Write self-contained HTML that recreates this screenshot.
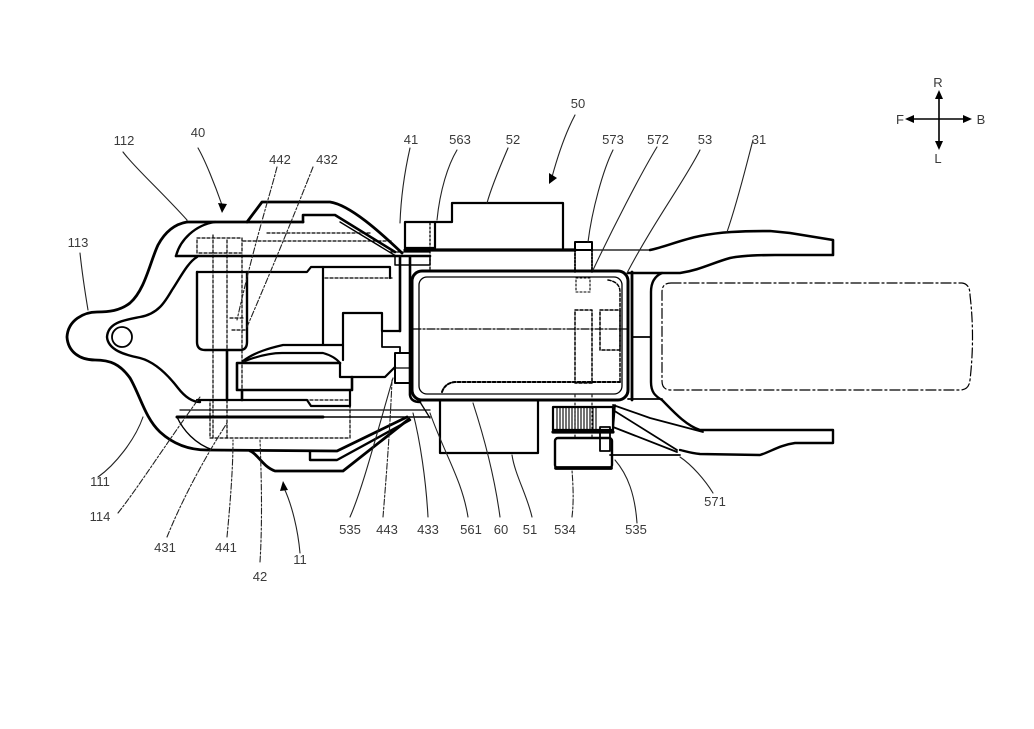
<!DOCTYPE html>
<html><head><meta charset="utf-8"><style>
html,body{margin:0;padding:0;background:#fff;}
svg{display:block;}
text{font-family:"Liberation Sans",sans-serif;font-size:13px;fill:#3a3a3a;text-anchor:middle;}
</style></head><body>
<svg width="1034" height="729" viewBox="0 0 1034 729" xmlns="http://www.w3.org/2000/svg">
<g fill="none" stroke="#000" stroke-linejoin="round" stroke-linecap="round">
<!-- outer housing -->
<path stroke-width="2.8" d="M187,222 C175,224 165,232 158,245 C150,262 145,290 130,303 C120,311 108,312 97,312 C84,312 68,320 67,337 C68,352 80,360 95,360 C110,360 120,364 130,378 C140,395 145,418 160,432 C172,443 188,450 207,450 L337,451 L407,417"/>
<path stroke-width="2.8" d="M250,451 C258,454 262,466 275,471 L343,471 L409,419"/>
<path stroke-width="2.4" d="M310,451 L310,460 L337,460 L410,420"/>
<path stroke-width="2.8" d="M187,222 L303,222"/>
<path stroke-width="2.8" d="M247,222 L262,202 L330,202 C350,205 380,232 402,253"/>
<path stroke-width="2.6" d="M303,222 L303,215 L335,215 L395,252"/>
<path stroke-width="1.4" d="M340,222 L396,256"/>
<!-- inner contour -->
<path stroke-width="2.4" d="M197,257 C188,262 180,278 172,290 C165,302 158,314 140,317 C125,320 108,322 107,337 C108,350 125,355 140,358 C155,362 168,375 178,388 C185,397 192,402 200,402"/>
<path stroke-width="2.4" d="M176,256 C180,240 195,225 215,222"/>
<path stroke-width="2.6" d="M176,256 L430,256"/>
<path stroke-width="1.2" d="M390,252 L430,252"/>
<path stroke-width="2.2" d="M197,272 L307,272 L311,267 L390,267 L390,278"/>
<path stroke-width="1.3" stroke-dasharray="3,2" d="M325,278 L392,278"/>
<path stroke-width="2.4" d="M197,272 L197,342 Q197,350 205,350 L240,350 Q247,350 247,342 L247,272"/>
<circle cx="122" cy="337" r="10" stroke-width="1.8"/>
<path stroke-width="1.4" d="M177,417 C183,430 195,444 213,450"/>
<!-- motor area -->
<path stroke-width="2.2" d="M323,267 L323,345 L343,345 M323,345 L283,345 C270,348 255,352 243,361"/>
<path stroke-width="2.2" d="M245,361 C258,356 270,353 282,353 L323,353 C330,355 336,358 340,363"/>
<path stroke-width="2.2" d="M343,360 L343,313 L382,313 L382,331 L400,331"/>
<path stroke-width="1.8" d="M382,331 L382,347 L400,347 L400,353"/>
<path stroke-width="2.2" d="M340,363 L340,377 L385,377 L395,367"/>
<path stroke-width="2.6" d="M340,363 L237,363 L237,390 L352,390 L352,377"/>
<path stroke-width="2.2" d="M197,400 L307,400 L311,406 L350,406 L350,390"/>
<path stroke-width="2.6" d="M227,350 L227,400 M242,390 L242,400"/>
<path stroke-width="1.3" d="M180,410 L430,410"/>
<path stroke-width="3" d="M177,417 L323,417"/>
<path stroke-width="1.4" d="M323,417 L430,417"/>
<path stroke-width="2.6" d="M400,257 L400,331 M410,257 L410,395 Q411,402 420,402"/>
<rect x="395" y="353" width="15" height="30" stroke-width="2"/>
<path stroke-width="1.3" d="M395,368 L410,368 M420,402 L430,418"/>
<!-- hidden lines left -->
<g stroke-width="1.2" stroke-dasharray="3,2">
<path d="M213,235 L213,438 M227,240 L227,350 M242,255 L242,390 M227,400 L227,440"/>
<rect x="210" y="400" width="140" height="38"/>
<rect x="197" y="238" width="45" height="15"/>
<path d="M267,233 L370,233 M243,241 L392,241"/>
<path d="M230,318 L245,318 M232,330 L245,330"/>
</g>
<!-- top boxes -->
<rect x="405" y="222" width="30" height="26" stroke-width="2.2"/>
<path stroke-width="2.2" d="M435,222 L452,222 L452,203 L563,203 L563,248"/>
<path stroke-width="1.3" stroke-dasharray="2,2" d="M430,223 L430,270"/>
<rect x="395" y="256" width="35" height="9" stroke-width="1.5"/>
<path stroke-width="3.2" d="M405,250 L575,250"/>
<rect x="575" y="242" width="17" height="8" stroke-width="2"/>
<path stroke-width="1.8" stroke-dasharray="2,1.5" d="M575,250 L575,272 M592,250 L592,272"/>
<rect x="576" y="278" width="14" height="14" stroke-width="1.1" stroke-dasharray="2,2"/>
<!-- tank -->
<rect x="412" y="271" width="216" height="129" rx="10" stroke-width="3"/>
<rect x="419" y="277" width="203" height="117" rx="8" stroke-width="1.3"/>
<path stroke-width="1.2" stroke-dasharray="8,2,2,2" d="M413,329 L628,329"/>
<path stroke-width="2" stroke-dasharray="3,2" d="M442,392 Q445,383 455,382 L620,382"/>
<g stroke-width="1.5" stroke-dasharray="3,2">
<rect x="575" y="310" width="17" height="73"/>
<rect x="600" y="310" width="20" height="40"/>
<path d="M608,280 Q620,282 620,292 L620,383"/>
</g>
<rect x="440" y="400" width="98" height="53" stroke-width="2.2"/>
<!-- gears -->
<rect x="553" y="407" width="60" height="23" stroke-width="2.2"/>
<path stroke-width="1.1" d="M557,408V429M560,408V429M563,408V429M566,408V429M569,408V429M572,408V429M575,408V429M578,408V429M581,408V429M584,408V429M587,408V429M590,408V429M593,408V429M596,408V429"/>
<path stroke-width="3.2" d="M553,432 L613,432"/>
<rect x="555" y="438" width="57" height="30" rx="3" stroke-width="2.4"/>
<path stroke-width="3.8" d="M556,468 L611,468"/>
<rect x="600" y="427" width="10" height="24" stroke-width="1.8"/>
<path stroke-width="1.1" stroke-dasharray="2,2" d="M575,395 L575,438 M592,395 L592,438"/>
<path stroke-width="1.8" d="M613,405 L650,418 L703,432 M613,410 L677,450 M613,427 L677,452 M610,455 L680,455 M613,430 L615,405"/>
<!-- right structure / 31 -->
<path stroke-width="2.8" d="M632,272 L632,400"/>
<path stroke-width="1.8" d="M632,337 L650,337"/>
<path stroke-width="1.3" d="M592,250 L650,250"/>
<path stroke-width="2.6" d="M650,250 C665,247 680,240 700,236 C720,232 740,231 770,231 L790,233 L833,240 L833,255 L775,255 C755,255 740,256 730,258 C712,263 700,270 680,273 L628,273"/>
<path stroke-width="2.4" d="M662,273 C655,276 651,282 651,292 L651,382 C651,392 655,396 662,400 C672,410 685,425 700,430 L833,430 L833,443 L795,443 C780,445 770,452 760,455 L700,454 C690,453 685,451 680,450"/>
<path stroke-width="1.8" d="M628,399 L662,399"/>
<path stroke-width="1.2" stroke-dasharray="10,3,2,3" d="M671,283 L962,283 Q970,284 970,295 Q975,337 970,380 Q969,390 960,390 L671,390 Q662,390 662,381 L662,292 Q662,283 671,283 Z"/>
<!-- leader lines -->
<g stroke-width="1.1" stroke="#222">
<path d="M123,152 C135,168 160,190 187,220"/>
<path d="M198,148 C205,160 215,185 222,205"/>
<path d="M80,253 C82,272 85,292 88,310"/>
<path d="M410,148 C405,170 401,195 400,223"/>
<path d="M457,150 C448,165 440,190 437,220"/>
<path d="M508,148 C502,162 492,185 487,203"/>
<path d="M575,115 C566,132 558,155 552,177"/>
<path d="M613,150 C603,170 592,210 588,242"/>
<path d="M657,147 C640,175 612,230 593,270"/>
<path d="M700,150 C685,180 655,220 627,273"/>
<path d="M753,140 C745,170 738,200 727,232"/>
<path d="M98,477 C115,465 135,440 143,417"/>
<path d="M300,553 C298,530 292,505 284,488"/>
<path d="M350,517 C362,490 375,440 393,378"/>
<path d="M428,517 C426,480 420,440 413,413"/>
<path d="M468,517 C462,480 445,455 430,413"/>
<path d="M500,517 C495,480 485,440 473,403"/>
<path d="M532,517 C527,495 515,475 512,455"/>
<path d="M637,523 C635,495 628,475 615,460"/>
<path d="M713,493 C705,480 692,465 680,457"/>
</g>
<g stroke-width="1.1" stroke="#222" stroke-dasharray="6,2,2,2">
<path d="M277,167 C270,195 255,240 237,320"/>
<path d="M313,167 C300,200 280,250 247,327"/>
<path d="M118,513 C140,485 165,445 200,397"/>
<path d="M167,537 C180,505 200,465 227,423"/>
<path d="M227,537 C230,505 233,470 233,440"/>
<path d="M260,562 C262,530 262,490 260,440"/>
<path d="M383,517 C386,480 390,430 392,380"/>
<path d="M572,517 C574,500 573,485 572,470"/>
</g>
<!-- direction -->
<path stroke-width="1.6" d="M939,120 L939,96 M939,120 L939,145 M939,119 L911,119 M939,119 L966,119"/>
</g>
<g fill="#000" stroke="none">
<path d="M222,213 L218,203 L227,204 Z"/>
<path d="M549,184 L549,173 L557,178 Z"/>
<path d="M283,481 L280,491 L288,490 Z"/>
<path d="M939,90 L935,99 L943,99 Z"/>
<path d="M939,150 L935,141 L943,141 Z"/>
<path d="M905,119 L914,115 L914,123 Z"/>
<path d="M972,119 L963,115 L963,123 Z"/>
</g>
<text x="124" y="145">112</text>
<text x="198" y="137">40</text>
<text x="280" y="164">442</text>
<text x="327" y="164">432</text>
<text x="78" y="247">113</text>
<text x="411" y="144">41</text>
<text x="460" y="144">563</text>
<text x="513" y="144">52</text>
<text x="578" y="108">50</text>
<text x="613" y="144">573</text>
<text x="658" y="144">572</text>
<text x="705" y="144">53</text>
<text x="759" y="144">31</text>
<text x="100" y="486">111</text>
<text x="100" y="521">114</text>
<text x="165" y="552">431</text>
<text x="226" y="552">441</text>
<text x="260" y="581">42</text>
<text x="300" y="564">11</text>
<text x="350" y="534">535</text>
<text x="387" y="534">443</text>
<text x="428" y="534">433</text>
<text x="471" y="534">561</text>
<text x="501" y="534">60</text>
<text x="530" y="534">51</text>
<text x="565" y="534">534</text>
<text x="636" y="534">535</text>
<text x="715" y="506">571</text>
<text x="938" y="87">R</text>
<text x="900" y="124">F</text>
<text x="981" y="124">B</text>
<text x="938" y="163">L</text>
</svg>
</body></html>
